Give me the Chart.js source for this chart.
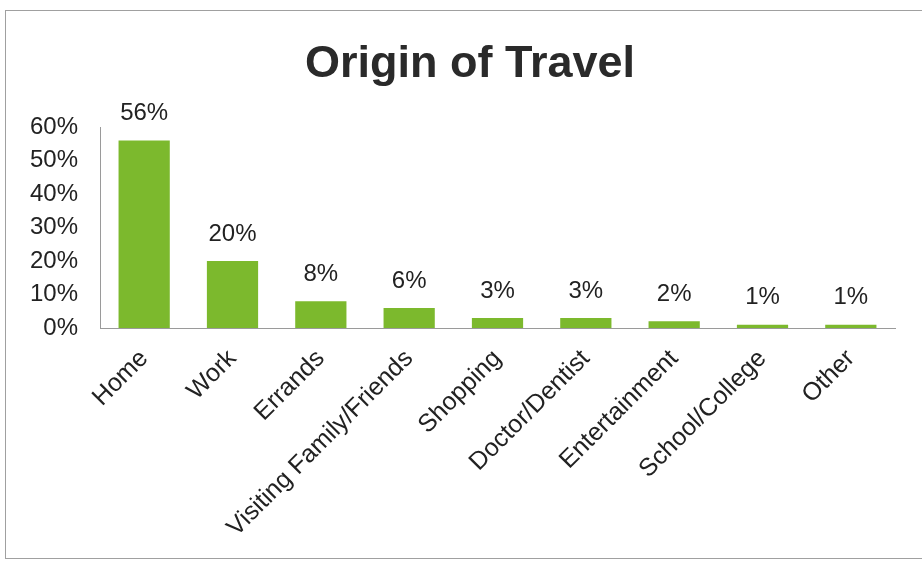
<!DOCTYPE html>
<html>
<head>
<meta charset="utf-8">
<script src="https://cdn.jsdelivr.net/npm/chart.js@4/dist/chart.umd.min.js"></script>
<style>
  html, body { margin: 0; padding: 0; background: #ffffff; overflow: hidden; }
  #wrap { position: relative; width: 922px; height: 563px; }
  #frame { position: absolute; left: 5px; top: 10px; width: 940px; height: 549px;
           border: 1px solid #a0a0a0; box-sizing: border-box; }
  canvas { position: absolute; left: 0; top: 0; }
</style>
</head>
<body>
<div id="wrap">
  <div id="frame"></div>
  <canvas id="c" width="922" height="563"></canvas>
</div>
<script>
// Trip origins, share of all trips (%)
const categories = ['Home', 'Work', 'Errands', 'Visiting Family/Friends', 'Shopping',
                    'Doctor/Dentist', 'Entertainment', 'School/College', 'Other'];
const shares = [56, 20, 8, 6, 3, 3, 2, 1, 1];
const yTicks = [0, 10, 20, 30, 40, 50, 60];
const chartTitle = 'Origin of Travel';

const FONT = "'Liberation Sans', Arial, Helvetica, sans-serif";
const TEXT = '#222222';
const GREEN = '#7cb92d';

// Heading, centred over the whole framed panel
const heading = {
  id: 'heading',
  afterDraw(chart) {
    const ctx = chart.ctx;
    ctx.save();
    ctx.font = 'bold 45px ' + FONT;
    ctx.fillStyle = '#2a2a2a';
    ctx.textAlign = 'center';
    ctx.textBaseline = 'middle';
    ctx.fillText(chartTitle, 470, 65);
    ctx.restore();
  }
};

// Percent labels above each bar
const valueLabels = {
  id: 'valueLabels',
  afterDatasetsDraw(chart) {
    const ctx = chart.ctx;
    const meta = chart.getDatasetMeta(0);
    ctx.save();
    ctx.font = '24px ' + FONT;
    ctx.fillStyle = TEXT;
    ctx.textAlign = 'center';
    ctx.textBaseline = 'bottom';
    meta.data.forEach((bar, i) => {
      ctx.fillText(shares[i] + '%', bar.x, bar.y - 15);
    });
    ctx.restore();
  }
};

new Chart(document.getElementById('c'), {
  type: 'bar',
  data: {
    labels: categories,
    datasets: [{
      data: shares,
      backgroundColor: GREEN,
      borderWidth: 0,
      categoryPercentage: 1.0,
      barPercentage: 0.58
    }]
  },
  options: {
    responsive: false,
    animation: false,
    layout: { padding: { left: 0, right: 27, top: 127, bottom: 0 } },
    plugins: {
      legend: { display: false },
      tooltip: { enabled: false },
      title: { display: false }
    },
    scales: {
      y: {
        min: 0,
        max: 60,
        afterBuildTicks(scale) { scale.ticks = yTicks.map(v => ({ value: v })); },
        afterFit(scale) { scale.width = 100; },
        grid: { display: false, drawTicks: false },
        border: { display: true, color: '#9a9a9a', width: 1 },
        ticks: {
          color: TEXT,
          padding: 22,
          font: { family: FONT, size: 24 },
          callback: v => v + '%'
        }
      },
      x: {
        afterFit(scale) { scale.height = 235; },
        grid: { display: false, drawTicks: false },
        border: { display: true, color: '#9a9a9a', width: 1 },
        ticks: {
          color: TEXT,
          autoSkip: false,
          minRotation: 45,
          maxRotation: 45,
          padding: 16,
          font: { family: FONT, size: 25 }
        }
      }
    }
  },
  plugins: [valueLabels, heading]
});
</script>
</body>
</html>
